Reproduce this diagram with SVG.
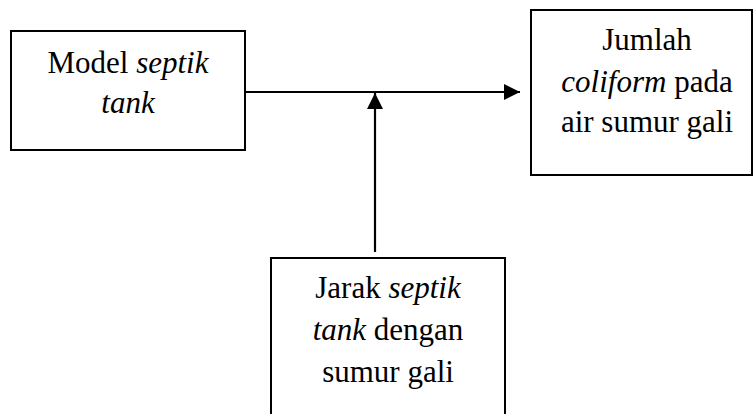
<svg xmlns="http://www.w3.org/2000/svg" width="754" height="414" viewBox="0 0 754 414">
<style>
.box{fill:#fff;stroke:#000;stroke-width:2}
.t{font-family:"Liberation Serif","Times New Roman",serif;font-size:31px;fill:#000;text-anchor:middle}
.i{font-style:italic}
.c{stroke:#000;stroke-width:2.2;fill:none}
</style>
<defs>
<marker id="ah" viewBox="0 0 16 16" refX="16" refY="8" markerWidth="16" markerHeight="16" markerUnits="userSpaceOnUse" orient="auto">
<path d="M0,0 L16,8 L0,16 Z" fill="#000"/>
</marker>
</defs>
<rect width="754" height="414" fill="#fff"/>
<g id="connectors">
<path class="c" d="M245,92 L520,92" marker-end="url(#ah)"/>
<path class="c" d="M375,252 L375,93" marker-end="url(#ah)"/>
</g>
<g id="model">
<rect class="box" x="11" y="31" width="234" height="119"/>
<text class="t" x="128" y="73">Model <tspan class="i">septik</tspan></text>
<text class="t i" x="128" y="113">tank</text>
</g>
<g id="jumlah">
<rect class="box" x="531" y="10" width="221" height="165"/>
<text class="t" x="647" y="50">Jumlah</text>
<text class="t" x="647" y="92"><tspan class="i">coliform</tspan> pada</text>
<text class="t" x="647" y="132">air sumur gali</text>
</g>
<g id="jarak">
<rect class="box" x="271" y="258" width="234" height="170"/>
<text class="t" x="388" y="298">Jarak <tspan class="i">septik</tspan></text>
<text class="t" x="388" y="340"><tspan class="i">tank</tspan> dengan</text>
<text class="t" x="388" y="382">sumur gali</text>
</g>
</svg>
